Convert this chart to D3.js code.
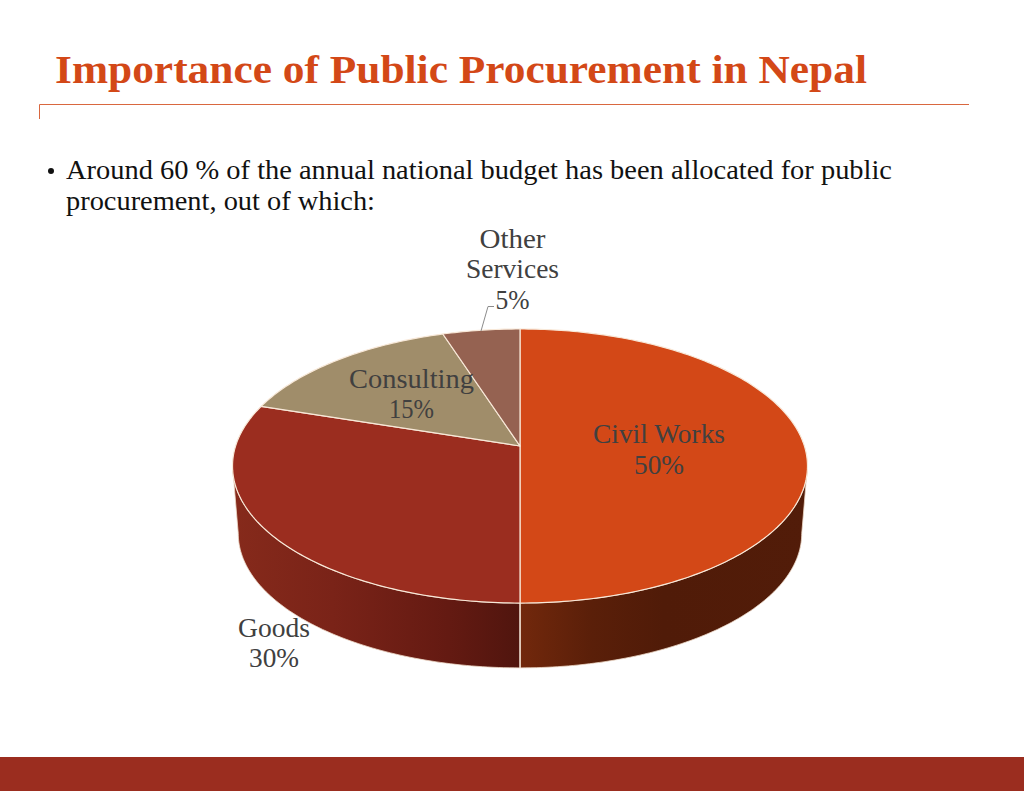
<!DOCTYPE html>
<html><head><meta charset="utf-8">
<script src="https://cdn.jsdelivr.net/npm/d3@7/dist/d3.min.js"></script>
<style>html,body{margin:0;padding:0;background:#fff}svg{display:block}text{font-family:"Liberation Serif",serif}</style>
</head><body><svg id="c" width="1024" height="791"></svg>
<script>
const categories = ["Civil Works","Goods","Consulting","Other Services"];
const values = [50,30,15,5];
const percentLabels = ["50%","30%","15%","5%"];
const sliceColors = ["#D34817","#9B2D1F","#A08D6A","#956251"];
const titleText = "Importance of Public Procurement in Nepal";
const bodyLines = ["Around 60 % of the annual national budget has been allocated for public","procurement, out of which:"];

const svg = d3.select("#c");
const cx=520, cy=446, A=284.4, B=134.1, k=0.146, S=0.98, bottomCy=514;
const rim=(t,bottom=false)=>{
  const u=Math.sin(t), v=-Math.cos(t), w=1-k*v;
  const x=A*u/w, y=B*v/w;
  return bottom?[cx+S*x,bottomCy+S*y]:[cx+x,cy+y];
};
const line=d3.line();
const samples=(a,b)=>{const n=Math.max(2,Math.ceil((b-a)*60));return d3.range(n+1).map(i=>a+(b-a)*i/n);};
const arcs=d3.pie().sort(null).value(d=>d)(values);
// the wall is visible only between the two points where the rim is widest
const tVisible=Math.acos(-k);

const defs=svg.append("defs");
const g1=defs.append("linearGradient").attr("id","gGoods").attr("gradientUnits","userSpaceOnUse").attr("x1",232).attr("x2",520).attr("y1",0).attr("y2",0);
[[0,"#862a1b"],[0.35,"#7a2318"],[0.75,"#641a12"],[1,"#50150e"]].forEach(s=>g1.append("stop").attr("offset",s[0]).attr("stop-color",s[1]));
const g2=defs.append("linearGradient").attr("id","gCivil").attr("gradientUnits","userSpaceOnUse").attr("x1",520).attr("x2",807).attr("y1",0).attr("y2",0);
[[0,"#72280c"],[0.25,"#5a1f09"],[0.5,"#501b08"],[1,"#521c09"]].forEach(s=>g2.append("stop").attr("offset",s[0]).attr("stop-color",s[1]));
const sideFill=["url(#gCivil)","url(#gGoods)",null,null];

// header
svg.append("text").attr("x",55).attr("y",83).attr("font-size",39).attr("font-weight","bold").attr("fill","#D34817")
  .attr("textLength",812).attr("lengthAdjust","spacingAndGlyphs").text(titleText);
svg.append("path").attr("d","M39.5 119V104.5H969").attr("fill","none").attr("stroke","#D9673F").attr("stroke-width",1);
svg.append("circle").attr("cx",51).attr("cy",171).attr("r",3).attr("fill","#111");
[[179,826],[210,309]].forEach((p,i)=>svg.append("text").attr("x",66).attr("y",p[0]).attr("font-size",28).attr("fill","#111")
  .attr("textLength",p[1]).attr("lengthAdjust","spacingAndGlyphs").text(bodyLines[i]));
svg.append("rect").attr("x",0).attr("y",757).attr("width",1024).attr("height",34).attr("fill","#9B2D1F");

// sides
arcs.forEach((a,i)=>{
  if(!sideFill[i])return;
  const lo=Math.max(a.startAngle,tVisible), hi=Math.min(a.endAngle,2*Math.PI-tVisible);
  const ts=samples(lo,hi);
  const pts=ts.map(t=>rim(t)).concat(ts.slice().reverse().map(t=>rim(t,true)));
  svg.append("path").attr("d",line(pts)+"Z").attr("fill",sideFill[i]).attr("stroke","#eed9c8").attr("stroke-width",0.8);
});
// seam between sides
svg.append("path").attr("d",line([rim(Math.PI),rim(Math.PI,true)])).attr("stroke","#f6e9dc").attr("stroke-width",1.2);
// top faces
arcs.forEach((a,i)=>{
  const pts=[[cx,cy]].concat(samples(a.startAngle,a.endAngle).map(t=>rim(t)));
  svg.append("path").attr("d",line(pts)+"Z").attr("fill",sliceColors[i]).attr("stroke","#f8e8d8").attr("stroke-width",1.2).attr("stroke-linejoin","round");
});
// leader
svg.append("path").attr("d","M481 331L488 306.5H494").attr("fill","none").attr("stroke","#8c8c8c").attr("stroke-width",1);

// labels
const labelLayout=[
  {x:659,lines:[[categories[0],443,132],[percentLabels[0],474,50]]},
  {x:274,lines:[[categories[1],637,72],[percentLabels[1],667,50]]},
  {x:411.5,lines:[[categories[2],388,125],[percentLabels[2],418,45]]},
  {x:512.5,lines:[["Other",248,66],["Services",278,93],[percentLabels[3],309,34]]}
];
labelLayout.forEach(l=>l.lines.forEach(t=>{
  svg.append("text").attr("x",l.x).attr("y",t[1]).attr("text-anchor","middle").attr("font-size",28).attr("fill","#404040")
    .attr("textLength",t[2]).attr("lengthAdjust","spacingAndGlyphs").text(t[0]);
}));
</script></body></html>
